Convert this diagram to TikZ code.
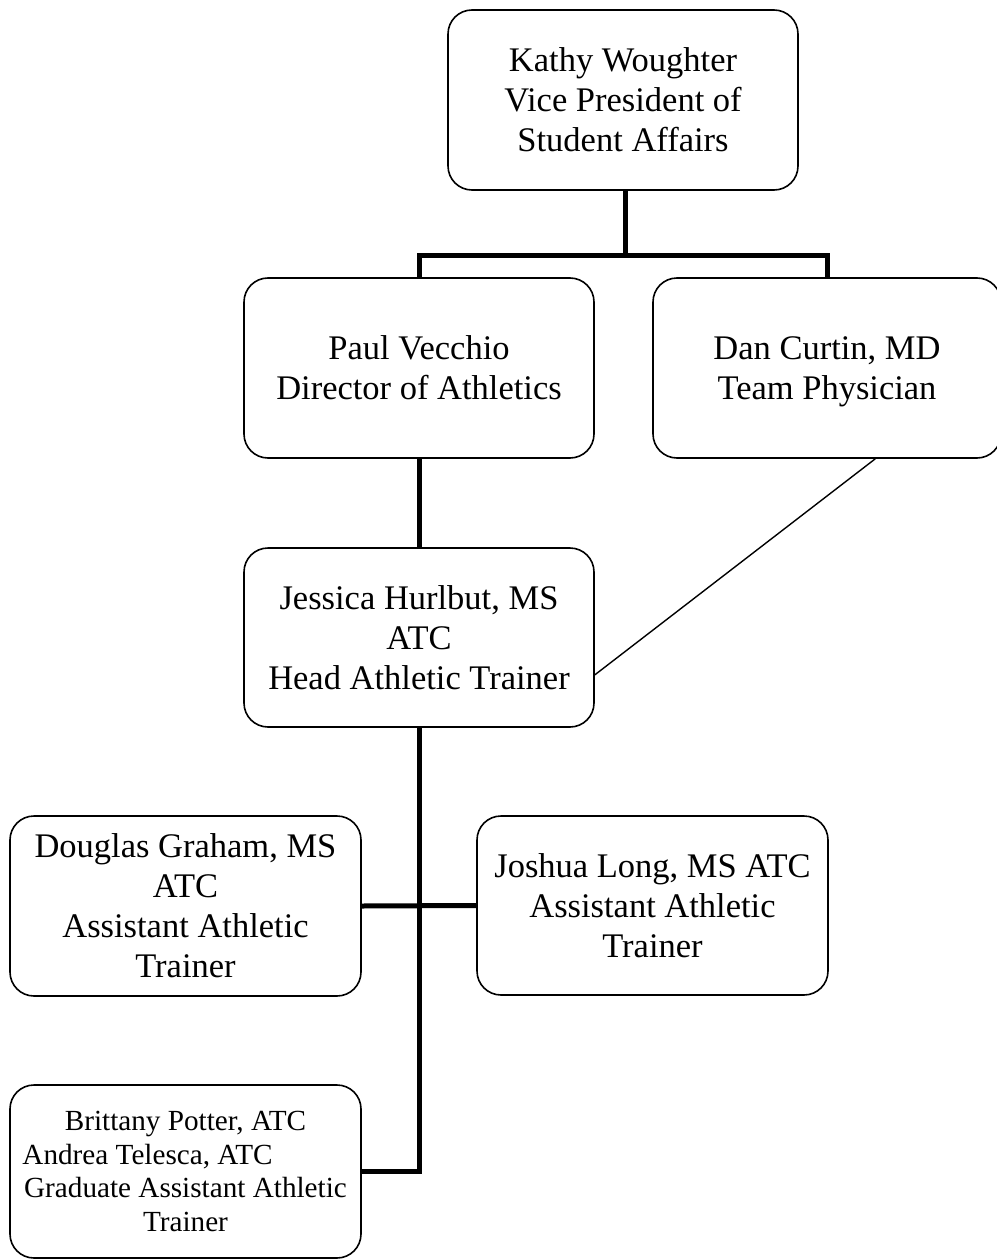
\documentclass[tikz,border=0pt]{standalone}
\usepackage{fontspec}
\setmainfont{Liberation Serif}

\begin{document}
\begin{tikzpicture}[x = 1pt, y = -1pt,
    person/.style = {draw, line width = 1.6pt, rounded corners = 24pt, inner sep = 0pt, align = center, minimum width = 350pt, minimum height = 180pt, font = \fontsize{34.5}{40}\selectfont},
    link/.style = {line width = 5pt},
    side/.style = {line width = 1.4pt}]

    \useasboundingbox (0, 0) rectangle (996, 1260);

    \node (kathy) [person] at (623, 100) {Kathy Woughter\\Vice President of\\Student Affairs};
    \node (paul) [person] at (419, 368) {Paul Vecchio\\Director of Athletics};
    \node (dan) [person, minimum width = 348pt] at (827, 368) {Dan Curtin, MD\\\smash{Team Physician}};
    \node (jessica) [person, minimum height = 179pt] at (419, 637.5) {Jessica Hurlbut, MS\\ATC\\Head Athletic Trainer};
    \node (douglas) [person, minimum width = 351pt] at (185.5, 906) {Douglas Graham, MS\\ATC\\Assistant Athletic\\Trainer};
    \node (joshua) [person, minimum width = 351pt, minimum height = 179pt] at (652.5, 905.5) {Joshua Long, MS ATC\\Assistant Athletic\\Trainer};
    \node (brittany) [person, minimum width = 351pt, minimum height = 173pt, font = \fontsize{29.2}{33.5}\selectfont] at (185.5, 1171.5) {Brittany Potter, ATC\\Andrea Telesca, ATC\hspace*{76pt}\mbox{}\\Graduate Assistant Athletic\\Trainer};

    \coordinate (bus) at (625, 255);
    \draw [link] (kathy.south -| bus) -- (bus);
    \draw [link] (paul.north) |- (bus) -| (dan.north);
    \draw [link] (paul) -- (jessica);
    \draw [link] (jessica.south) |- (brittany.east);
    \draw [link] (douglas.east) -- (joshua.west);
    \draw [side] (dan.-62.9) -- (jessica.-12.7);

\end{tikzpicture}
\end{document}
